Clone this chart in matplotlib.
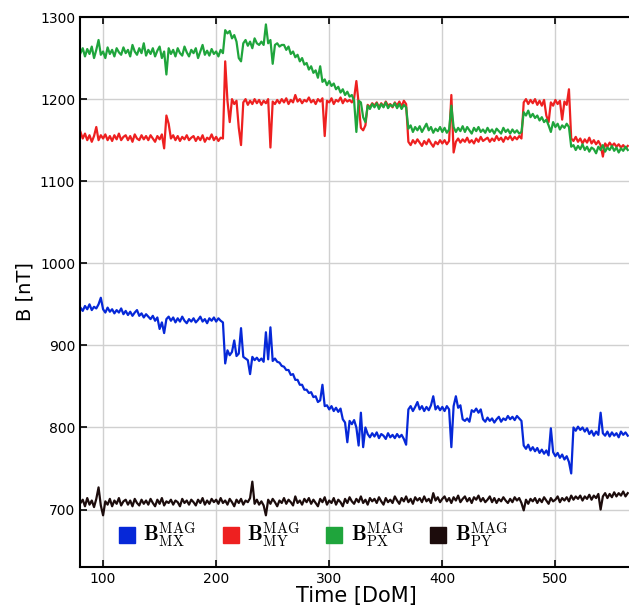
import numpy as np
import matplotlib
matplotlib.use('Agg')
import matplotlib.pyplot as plt
from matplotlib.lines import Line2D

plt.rcParams['mathtext.fontset'] = 'cm'

# day of mission, every 2 days
days = np.arange(80, 566, 2)

b_mx = [
    946, 942, 948, 944, 950, 943, 947, 945, 950, 958,
    944, 940, 946, 941, 944, 939, 943, 940, 945, 938,
    942, 937, 941, 936, 940, 943, 936, 939, 934, 938,
    935, 932, 936, 930, 934, 920, 928, 915, 932, 935,
    930, 934, 928, 933, 929, 935, 930, 927, 932, 929,
    933, 928, 931, 935, 929, 932, 927, 933, 930, 934,
    929, 933, 930, 928, 878, 894, 888, 892, 906, 887,
    890, 921, 886, 884, 882, 865, 886, 882, 885, 881,
    884, 880, 916, 883, 922, 881, 884, 880, 879, 875,
    874, 870, 870, 864, 865, 858, 858, 852, 852, 846,
    846, 842, 843, 837, 838, 831, 833, 852, 826, 827,
    822, 826, 820, 824, 819, 823, 810, 806, 782, 808,
    804, 809, 800, 778, 818, 776, 800, 792, 788, 793,
    789, 794, 787, 792, 790, 786, 793, 788, 791, 787,
    792, 788, 791, 786, 779, 822, 826, 820, 825, 831,
    822, 826, 820, 825, 821, 827, 838, 822, 826, 821,
    825, 820, 826, 822, 776, 826, 838, 824, 827, 810,
    808, 811, 807, 821, 819, 823, 818, 822, 810, 807,
    812, 808, 811, 806, 810, 813, 807, 811, 809, 814,
    810, 813, 809, 814, 811, 808, 778, 774, 779, 772,
    776, 771, 775, 769, 773, 768, 772, 766, 799, 770,
    765, 769, 763, 767, 761, 765, 758, 744, 800, 796,
    801, 797, 800, 795, 799, 792, 796, 790, 795, 791,
    818, 793, 790, 795, 789, 794, 790, 793, 788, 795,
    791, 794, 790,
]

b_my = [
    1160, 1152, 1158, 1150, 1156, 1148, 1155, 1166, 1150, 1156,
    1152, 1157, 1150, 1155, 1149, 1156, 1151, 1158, 1150, 1154,
    1156, 1150, 1155, 1148, 1157, 1152, 1150, 1156, 1151, 1155,
    1150, 1156, 1152, 1148, 1155, 1151, 1157, 1140, 1180, 1170,
    1152, 1156, 1150, 1155, 1149, 1154, 1151, 1156, 1150, 1153,
    1155, 1149, 1154, 1150, 1156, 1148, 1153, 1151, 1157, 1150,
    1154, 1149, 1153, 1152, 1246, 1198, 1172, 1200, 1194, 1198,
    1165, 1144, 1196, 1200, 1193, 1198, 1194, 1200, 1195, 1199,
    1193, 1198, 1195, 1200, 1141, 1197, 1194, 1199, 1195, 1200,
    1196, 1201, 1194, 1199, 1196, 1205, 1197, 1200, 1195, 1199,
    1197, 1202, 1196, 1199, 1194, 1200, 1197, 1201, 1155, 1198,
    1196, 1201, 1194, 1199, 1197, 1202, 1195, 1200, 1197, 1199,
    1196, 1201, 1222, 1195, 1165, 1162, 1168, 1193, 1190, 1195,
    1192, 1196, 1190, 1195, 1191, 1197, 1192, 1194, 1190, 1196,
    1192, 1197, 1191, 1198, 1194, 1148, 1144, 1150, 1146, 1151,
    1147, 1143, 1149, 1145, 1151, 1146, 1142, 1148, 1145, 1150,
    1146, 1150, 1145, 1149, 1205, 1135, 1148, 1152, 1147, 1151,
    1148, 1153, 1147, 1150, 1146, 1152, 1148, 1154, 1149, 1151,
    1153, 1148, 1152, 1149, 1155, 1150, 1153, 1148, 1154, 1151,
    1155, 1150, 1154, 1151, 1155, 1152, 1196, 1200, 1194, 1199,
    1195, 1200, 1193, 1198, 1192, 1199, 1180, 1172, 1196, 1192,
    1199, 1194, 1198, 1175, 1197, 1193, 1212, 1152, 1149, 1154,
    1148, 1152, 1146, 1151, 1147, 1153, 1146, 1150, 1145, 1149,
    1144, 1130, 1146, 1142, 1147, 1143, 1146, 1142, 1145, 1141,
    1144, 1140, 1143,
]

b_px = [
    1256, 1262, 1252, 1261, 1255, 1264, 1250, 1260, 1272, 1254,
    1258, 1250, 1263, 1255, 1260, 1252, 1262, 1257, 1254, 1263,
    1256, 1260, 1252, 1266, 1258, 1254, 1262, 1256, 1268, 1253,
    1260, 1255, 1262, 1252, 1259, 1264, 1250, 1258, 1230, 1262,
    1255, 1260, 1252, 1262, 1256, 1253, 1264, 1257, 1252, 1260,
    1256, 1262, 1250, 1258, 1266, 1254, 1259, 1253, 1261, 1255,
    1258, 1252, 1260, 1256, 1284, 1280, 1283, 1274, 1278, 1270,
    1250, 1246, 1268, 1272, 1265, 1270, 1262, 1274, 1268, 1266,
    1270, 1266, 1291, 1268, 1272, 1243, 1266, 1268, 1264, 1266,
    1266, 1260, 1264, 1255, 1258, 1251, 1254, 1246, 1250, 1242,
    1244, 1236, 1240, 1232, 1235, 1226, 1240, 1221, 1224, 1217,
    1222, 1216, 1219, 1212, 1215, 1208, 1212, 1205, 1209, 1203,
    1205, 1198, 1160, 1198, 1196, 1178, 1172, 1192, 1188, 1194,
    1190, 1195, 1188, 1194, 1190, 1196, 1189, 1193, 1191, 1195,
    1189, 1194, 1188, 1193, 1190, 1164, 1168, 1160, 1166, 1162,
    1167, 1160, 1165, 1170, 1162, 1166, 1159, 1164, 1161, 1166,
    1160, 1165, 1159, 1163, 1192, 1166, 1160, 1165, 1161, 1167,
    1160, 1166, 1162, 1158, 1165, 1161, 1166, 1160, 1163, 1159,
    1165, 1160, 1163, 1158, 1164, 1161, 1158, 1165, 1160, 1163,
    1158, 1163, 1159, 1162, 1158, 1160, 1184, 1180, 1186, 1178,
    1182, 1177, 1180, 1174, 1178, 1172, 1175, 1168, 1160, 1172,
    1166, 1170, 1163, 1168, 1165, 1170, 1166, 1142, 1144, 1138,
    1143, 1139, 1145, 1138, 1142, 1136, 1141, 1139, 1134, 1142,
    1138, 1144, 1136, 1141, 1138, 1143, 1137, 1141, 1135, 1140,
    1137, 1142, 1138,
]

b_py = [
    708, 712, 704, 714, 706, 711, 703, 713, 727, 705,
    693, 710, 706, 713, 704, 711, 707, 714, 705, 710,
    712, 706, 711, 704, 713, 708, 705, 712, 707, 711,
    706, 713, 708, 704, 712, 707, 714, 705, 710, 708,
    712, 706, 711, 709, 704, 713, 708, 711, 706, 712,
    709, 705, 712, 708, 714, 706, 711, 707, 713, 709,
    712, 707, 714, 708, 711, 706, 713, 709, 704, 712,
    708, 713, 706, 711, 709, 714, 734, 707, 712, 706,
    710, 705, 693, 712, 707, 713, 709, 704, 711, 708,
    714, 707, 712, 709, 705, 716, 708, 711, 706, 713,
    709, 714, 707, 712, 708, 704, 713, 709, 715, 706,
    711, 708, 714, 706, 712, 709, 704, 713, 708, 715,
    710, 707, 713, 709, 716, 708, 712, 706, 714, 710,
    713, 708, 715, 710, 706, 714, 709, 712, 708, 716,
    711, 707, 714, 710, 716, 709, 713, 707, 715, 711,
    714, 709, 716, 710, 713, 708, 720, 711, 715, 709,
    713, 716, 710, 714, 708, 715, 711, 717, 709, 713,
    716, 710, 714, 708, 715, 712, 717, 710, 714, 709,
    712, 716, 709, 714, 708, 713, 710, 715, 711, 708,
    713, 709, 715, 711, 714, 708, 699, 712, 707, 713,
    710, 714, 708, 713, 709, 715, 711, 707, 714, 710,
    712, 716, 709, 714, 711, 715, 710, 717, 712, 716,
    713, 717, 711, 716, 713, 718, 712, 717, 714, 719,
    700, 716, 720, 714, 719, 715, 721, 716, 720, 717,
    722, 716, 720,
]

labels = [r'$\mathbf{B}_{\rm MX}^{\rm MAG}$', r'$\mathbf{B}_{\rm MY}^{\rm MAG}$',
          r'$\mathbf{B}_{\rm PX}^{\rm MAG}$', r'$\mathbf{B}_{\rm PY}^{\rm MAG}$']
colors = ['#0628d8', '#ee2020', '#1fa53c', '#1c0c0c']

fig = plt.figure(figsize=(6.29, 6.08), dpi=100)
ax = fig.add_axes([0.1272, 0.0674, 0.878, 0.9046])

for vals, c in zip([b_mx, b_my, b_px, b_py], colors):
    ax.plot(days, vals, color=c, lw=1.6)

ax.set_xlim(79.6, 568)
ax.set_ylim(630, 1300)
ax.set_xticks([100, 200, 300, 400, 500])
ax.set_yticks([700, 800, 900, 1000, 1100, 1200, 1300])
ax.grid(True, color='#d0d0d0', lw=1)
ax.set_axisbelow(True)
ax.tick_params(direction='in', top=True, right=False, length=5, width=1.2, labelsize=10)
for s in ax.spines.values():
    s.set_linewidth(1.5)
ax.spines['right'].set_visible(False)
ax.set_xlabel('Time [DoM]', fontsize=15, labelpad=0)
ax.set_ylabel('B [nT]', fontsize=14)

handles = [Line2D([], [], ls='none', marker='s', ms=11, color=c) for c in colors]
ax.legend(handles, labels, ncol=4, loc='center', bbox_to_anchor=(0.42, 0.057),
          frameon=False, fontsize=15, handletextpad=0.3, columnspacing=1.15,
          handlelength=1.0)

fig.savefig('out.png', dpi=100)
